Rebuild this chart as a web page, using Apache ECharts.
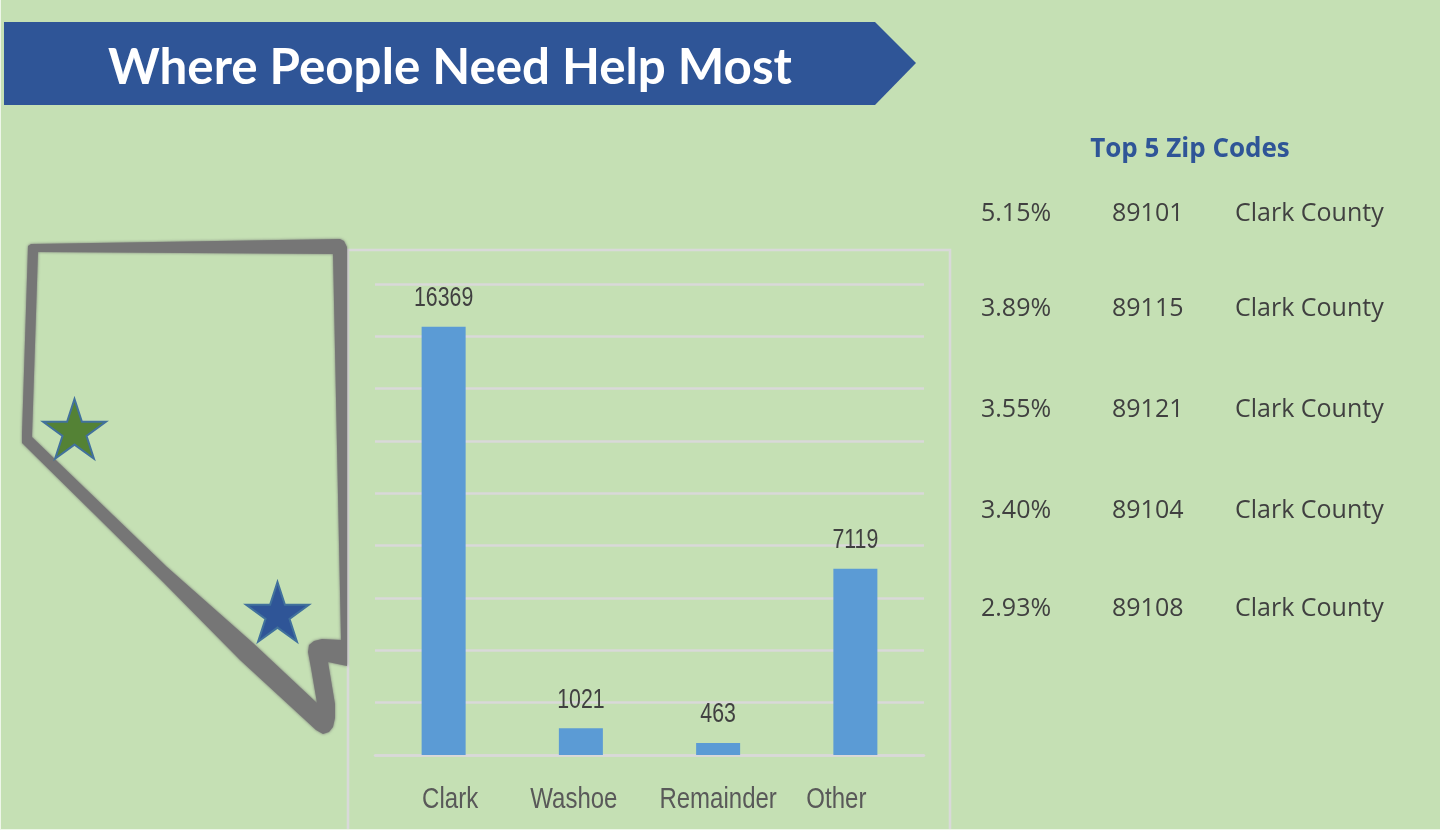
<!DOCTYPE html>
<html>
<head>
<meta charset="utf-8">
<title>Where People Need Help Most</title>
<style>
  html, body { margin: 0; padding: 0; background: #C5E0B4; }
  #chart { width: 1440px; height: 830px; }
</style>
<script src="https://cdn.jsdelivr.net/npm/echarts@6/dist/echarts.min.js"></script>
</head>
<body>
<div id="chart"></div>
<script>
// County totals
const counties = ['Clark', 'Washoe', 'Remainder', 'Other'];
const countyCounts = [16369, 1021, 463, 7119];

// Top zip codes table
const zipShares = ['5.15%', '3.89%', '3.55%', '3.40%', '2.93%'];
const zipCodes = ['89101', '89115', '89121', '89104', '89108'];
const zipCounties = ['Clark County', 'Clark County', 'Clark County', 'Clark County', 'Clark County'];

const headline = 'Where People Need Help Most';
const tableHeading = 'Top 5 Zip Codes';

const GREEN_BG = '#C5E0B4';
const NAVY = '#2F5597';
const GRID_GREY = '#D9D9D9';
const OUTLINE_GREY = '#767676';
const TEXT_DARK = '#404040';
const UI_FONT = '"Open Sans", "Noto Sans", sans-serif';
const HEAD_FONT = 'Lato, "Open Sans", sans-serif';
const LABEL_FONT = '"Liberation Sans", Arial, sans-serif';

// Five-pointed star scaled into a box, with tips on a circle around its centre
function starPoints(cx, cy, rx, ry) {
  const pts = [];
  for (let i = 0; i < 10; i++) {
    const a = -Math.PI / 2 + i * Math.PI / 5;
    const k = i % 2 ? 0.382 : 1;
    pts.push([cx + Math.cos(a) * rx * k, cy + Math.sin(a) * ry * k]);
  }
  return pts;
}

function star(cx, cy, fill) {
  return {
    type: 'polygon',
    shape: { points: starPoints(cx, cy, 33, 33) },
    style: { fill: fill, stroke: '#41719C', lineWidth: 2 },
    z: 20
  };
}

function plainText(x, y, text, font, fill, align) {
  return {
    type: 'text',
    x: x, y: y,
    style: { text: text, font: font, fill: fill, textAlign: align || 'left', textVerticalAlign: 'middle' },
    z: 20
  };
}

const graphics = [
  // Headline arrow banner
  {
    type: 'polygon',
    shape: { points: [[4, 22], [875, 22], [916, 63], [875, 105], [4, 105]] },
    style: { fill: NAVY },
    z: 10
  },
  plainText(450, 68, headline, 'bold 49.3px ' + HEAD_FONT, '#FFFFFF', 'center'),

  // Frame around the bar chart
  {
    type: 'rect',
    shape: { x: 348, y: 250, width: 602, height: 590 },
    style: { fill: 'none', stroke: GRID_GREY, lineWidth: 2.5 },
    z: 1
  },

  // Pale hairlines along the page edges
  { type: 'rect', shape: { x: 0, y: 0, width: 1, height: 830 }, style: { fill: '#EEF6E9' }, z: 30 },
  { type: 'rect', shape: { x: 0, y: 829, width: 1440, height: 1 }, style: { fill: '#EEF6E9' }, z: 30 },

  // State outline: outer edge followed by inner edge in reverse, joined into a single ring
  {
    type: 'polygon',
    shape: {
      points: [
        [28, 246], [31, 244], [340, 239], [344, 241], [347, 247],
        [347, 666], [328, 662], [331, 680], [335, 704], [335, 718], [333, 727], [329, 732], [323, 734], [316, 730],
        [240, 660], [163, 582], [22, 443], [22, 434], [28, 246],
        [38, 252], [32, 437], [167, 567], [253, 643], [317, 703],
        [311, 668], [308, 652], [309, 645], [314, 641], [322, 639], [341, 640], [333, 254], [38, 252]
      ]
    },
    style: { fill: OUTLINE_GREY, shadowColor: OUTLINE_GREY, shadowBlur: 3 },
    z: 5
  },
  star(74.5, 432, '#548235'),
  star(277.5, 615, NAVY),

  plainText(1190, 150, tableHeading, 'bold 26px ' + UI_FONT, NAVY, 'center')
];

// Table rows sit at uneven heights
const rowCentres = [214, 309, 410, 511, 609];
zipShares.forEach((share, i) => {
  const font = '25px ' + UI_FONT;
  graphics.push(plainText(981, rowCentres[i], share, font, TEXT_DARK));
  graphics.push(plainText(1112, rowCentres[i], zipCodes[i], font, TEXT_DARK));
  graphics.push(plainText(1235, rowCentres[i], zipCounties[i], font, TEXT_DARK));
});

// Horizontally squeezed text anchored to axis coordinates
function squeezedLabel(pixel, text, fontSize, squeeze, fill) {
  return {
    type: 'text',
    x: pixel[0],
    y: pixel[1],
    scaleX: squeeze,
    style: {
      text: text,
      fontFamily: LABEL_FONT,
      fontSize: fontSize,
      fill: fill,
      textAlign: 'center',
      textVerticalAlign: 'middle'
    }
  };
}

// Sideways nudge of each category caption from its bar, in pixels
const captionNudge = [6.5, -7, 0, -19];

const chart = echarts.init(document.getElementById('chart'), null, { renderer: 'canvas' });
chart.setOption({
  backgroundColor: GREEN_BG,
  animation: false,
  grid: { left: 375, right: 516, top: 284, bottom: 75 },
  xAxis: {
    type: 'category',
    data: counties,
    axisLine: { lineStyle: { color: GRID_GREY, width: 2.5 } },
    axisTick: { show: false },
    axisLabel: { show: false }
  },
  yAxis: {
    type: 'value',
    min: 0,
    max: 18000,
    interval: 2000,
    axisLabel: { show: false },
    axisLine: { show: false },
    axisTick: { show: false },
    splitLine: { lineStyle: { color: GRID_GREY, width: 2.5 } }
  },
  series: [
    {
      type: 'bar',
      data: countyCounts,
      barWidth: 44,
      itemStyle: { color: '#5B9BD5' }
    },
    // Value labels above the bars
    {
      type: 'custom',
      data: countyCounts.map((v, i) => [i, v]),
      encode: { x: 0, y: 1 },
      silent: true,
      z: 5,
      renderItem(params, api) {
        const p = api.coord([api.value(0), api.value(1)]);
        return squeezedLabel([p[0], p[1] - 28], String(api.value(1)), 27, 0.79, TEXT_DARK);
      }
    },
    // Category captions below the axis
    {
      type: 'custom',
      data: counties.map((c, i) => [i, 0]),
      encode: { x: 0, y: 1 },
      silent: true,
      z: 5,
      renderItem(params, api) {
        const i = api.value(0);
        const p = api.coord([i, 0]);
        return squeezedLabel([p[0] + captionNudge[i], p[1] + 45], counties[i], 30, 0.8, '#595959');
      }
    }
  ],
  graphic: graphics
});
</script>
</body>
</html>
